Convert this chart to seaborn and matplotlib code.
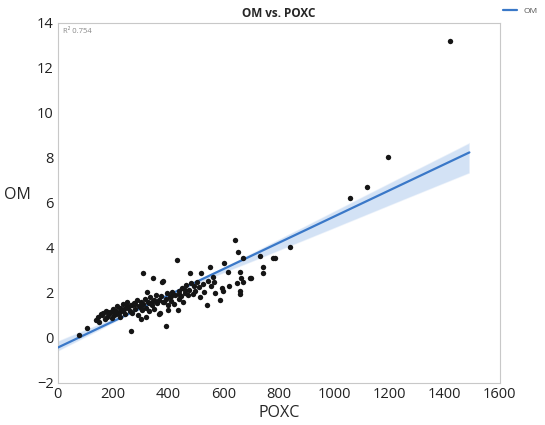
import numpy as np
import pandas as pd
import matplotlib
matplotlib.use("Agg")
import matplotlib.pyplot as plt
import seaborn as sns

# POXC vs OM values
poxc = [76, 106, 140, 145, 150, 155, 160, 165, 170, 175, 180, 185, 190, 195, 200,
        205, 210, 215, 220, 225, 230, 235, 240, 245, 250, 255, 260, 264, 265, 270,
        275, 280, 285, 290, 295, 300, 302, 305, 307, 310, 315, 318, 320, 322, 325,
        330, 335, 340, 343, 345, 350, 355, 360, 365, 368, 370, 375, 378, 382, 385,
        390, 392, 395, 398, 400, 405, 410, 415, 420, 425, 430, 435, 438, 440, 445,
        450, 455, 460, 465, 470, 475, 478, 482, 488, 492, 498, 505, 510, 515, 520,
        525, 530, 539, 545, 551, 556, 562, 564, 570, 587, 594, 597, 602, 615, 620,
        641, 647, 651, 659, 659, 660, 665, 669, 672, 696, 700, 732, 742, 744, 780,
        786, 841, 1058, 1120, 1196, 1420,
        180, 210, 235, 250, 280, 300, 330, 350, 380, 410, 440, 460, 200, 225, 270]
om = [0.13, 0.43, 0.78, 0.95, 0.7, 1.05, 1.0, 1.1, 0.85, 1.2, 0.95, 1.05, 1.15, 0.9, 1.3,
      1.0, 1.2, 1.4, 1.1, 0.95, 1.25, 1.5, 1.3, 1.05, 1.6, 1.35, 1.2, 0.31, 1.45, 1.1,
      1.55, 1.3, 1.7, 1.0, 1.4, 1.6, 0.85, 1.25, 2.88, 1.5, 1.75, 0.95, 1.35, 2.06, 1.6,
      1.2, 1.8, 1.45, 2.65, 1.65, 1.3, 1.9, 1.55, 1.7, 1.05, 1.1, 1.85, 2.5, 2.55, 1.6,
      0.53, 1.75, 2.0, 1.25, 1.45, 1.8, 1.65, 2.05, 1.5, 1.9, 3.47, 1.24, 1.75, 2.1, 1.85,
      2.2, 1.6, 2.0, 2.35, 1.9, 2.15, 2.87, 2.45, 1.95, 2.3, 2.1, 2.5, 2.25, 1.8, 2.87,
      2.4, 2.05, 1.47, 2.55, 3.17, 2.3, 2.7, 2.5, 2.0, 1.69, 2.2, 2.1, 3.35, 2.95, 2.3,
      4.36, 2.44, 3.84, 2.95, 2.1, 1.94, 2.66, 3.54, 2.5, 2.66, 2.66, 3.64, 2.87, 3.17, 3.54,
      3.54, 4.06, 6.2, 6.7, 8.05, 13.2,
      1.15, 1.05, 1.2, 1.4, 1.5, 1.35, 1.55, 1.7, 1.6, 1.85, 1.95, 2.15, 1.2, 1.35, 1.45]

df = pd.DataFrame({"POXC": poxc, "OM": om})

sns.set_style("white")
plt.rcParams["font.family"] = ["Open Sans", "DejaVu Sans"]

fig = plt.figure(figsize=(5.45, 4.25), dpi=100)
ax = fig.add_axes([0.106, 0.099, 0.811, 0.847])

# fit line drawn across 0..1490 like the original
ax.set_xlim(0, 1490)
sns.regplot(data=df, x="POXC", y="OM", ax=ax, truncate=False, ci=45, seed=1,
            scatter_kws={"s": 15, "color": "#151515", "alpha": 1, "linewidths": 0,
                         "zorder": 4},
            line_kws={"color": "#3a78c8", "lw": 1.6, "label": "OM", "zorder": 3})
# band is the last collection added by regplot
band = ax.collections[-1]
band.set_facecolor("#a9c6ec")
band.set_alpha(0.5)
band.set_zorder(2)

ax.set_xlim(0, 1600)
ax.set_ylim(-2, 14)
ax.set_xticks(range(0, 1601, 200))
ax.set_yticks(range(-2, 15, 2))
ax.tick_params(labelsize=10.5, length=2, pad=1, colors="#222222")
for s in ax.spines.values():
    s.set_color("#c8c8c8")
    s.set_linewidth(0.8)

ax.set_title("OM vs. POXC", fontsize=8.5, fontweight="bold", pad=4)
ax.set_xlabel("POXC", fontsize=11.5, labelpad=2)
ax.set_ylabel("OM", fontsize=11.5, rotation=0, labelpad=14)
ax.text(0.012, 0.985, "R\u00b2 0.754", transform=ax.transAxes, fontsize=5.5,
        color="#888888", va="top")

fig.legend(loc="upper right", bbox_to_anchor=(1.0, 1.0), frameon=False,
           fontsize=6, handlelength=1.6, labelcolor="#555555")

fig.savefig("out.png", dpi=100)
